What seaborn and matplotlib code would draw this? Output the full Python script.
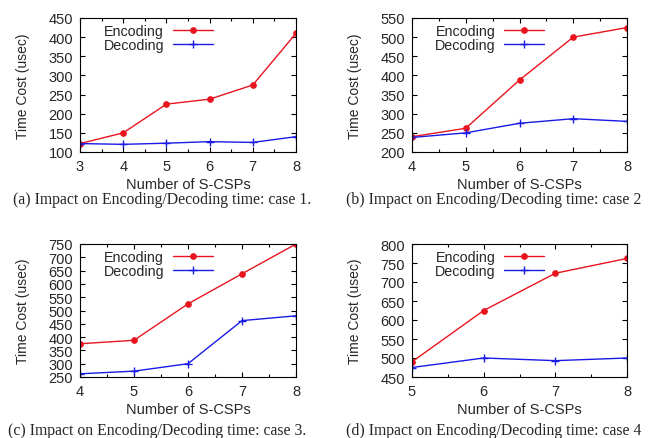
import matplotlib
matplotlib.use("Agg")
import matplotlib.pyplot as plt
from matplotlib.ticker import MultipleLocator
import seaborn as sns
import numpy as np

# ---------------- data ----------------
x_a = [3, 4, 5, 6, 7, 8]
enc_a = [122, 150, 225, 238, 275, 410]
dec_a = [122, 120, 123, 127, 125, 140]

x_b = [4, 5, 6, 7, 8]
enc_b = [240, 262, 388, 500, 525]
dec_b = [238, 250, 275, 287, 280]

x_c = [4, 5, 6, 7, 8]
enc_c = [375, 388, 525, 638, 750]
dec_c = [262, 272, 300, 462, 480]

x_d = [5, 6, 7, 8]
enc_d = [490, 625, 723, 762]
dec_d = [475, 500, 493, 500]

ylims = [(100, 450), (200, 550), (250, 750), (450, 800)]
captions = [
    "(a) Impact on Encoding/Decoding time: case 1.",
    "(b) Impact on Encoding/Decoding time: case 2",
    "(c) Impact on Encoding/Decoding time: case 3.",
    "(d) Impact on Encoding/Decoding time: case 4",
]
xlabel = "Number of S-CSPs"
ylabel = "Time Cost (usec)"
series_names = ["Encoding", "Decoding"]

# ---------------- style ----------------
sns.set_style("ticks")
plt.rcParams["font.family"] = ["Liberation Sans", "DejaVu Sans"]

W, H = 649, 439
fig = plt.figure(figsize=(W / 100, H / 100), dpi=100)

def frac_rect(l, r, t, b):
    return [l / W, 1 - b / H, (r - l) / W, (b - t) / H]

rects = [
    frac_rect(80, 296, 19, 153),
    frac_rect(412, 627, 19, 153),
    frac_rect(80, 296, 245, 378),
    frac_rect(412, 627, 245, 378),
]
cap_pos = [(162, 200), (494, 200), (157, 431), (494, 431)]

panels = [
    (x_a, enc_a, dec_a),
    (x_b, enc_b, dec_b),
    (x_c, enc_c, dec_c),
    (x_d, enc_d, dec_d),
]

RED = "#e8141e"
BLUE = "#1a1ae6"

for i, ((xs, enc, dec), rect, ylim) in enumerate(zip(panels, rects, ylims)):
    ax = fig.add_axes(rect)
    sns.lineplot(x=xs, y=enc, ax=ax, color=RED, marker="o", markersize=4,
                 markeredgecolor=RED, markeredgewidth=0.8, linewidth=1.0,
                 label=series_names[0])
    sns.lineplot(x=xs, y=dec, ax=ax, color=BLUE, marker="+", markersize=6,
                 markeredgecolor=BLUE, markeredgewidth=1.0, linewidth=1.0,
                 label=series_names[1])
    ax.set_xlim(xs[0], xs[-1])
    ax.set_ylim(*ylim)
    ax.xaxis.set_major_locator(MultipleLocator(1))
    ax.xaxis.set_minor_locator(MultipleLocator(0.5))
    ax.yaxis.set_major_locator(MultipleLocator(50))
    for s in ax.spines.values():
        s.set_visible(True)
        s.set_linewidth(0.8)
        s.set_color("black")
    ax.tick_params(which="both", direction="in", top=True, right=True,
                   width=0.8, color="black")
    ax.tick_params(which="major", length=3.5, labelsize=10.5, pad=5)
    ax.tick_params(which="minor", length=2.2)
    ax.set_xlabel(xlabel, fontsize=10.5, labelpad=3)
    ax.set_ylabel(ylabel, fontsize=10, labelpad=13)
    ax.legend(loc="upper right", bbox_to_anchor=(0.615, 0.955),
              markerfirst=False, frameon=False, borderpad=0,
              handlelength=2.8, handletextpad=0.6, labelspacing=0.0,
              fontsize=10.3, borderaxespad=0)
    cx, cy = cap_pos[i]
    fig.text(cx / W, 1 - cy / H, captions[i], ha="center", va="center",
             fontsize=11.3, family=["Liberation Serif", "DejaVu Serif"])

fig.savefig("out.png", dpi=100)
